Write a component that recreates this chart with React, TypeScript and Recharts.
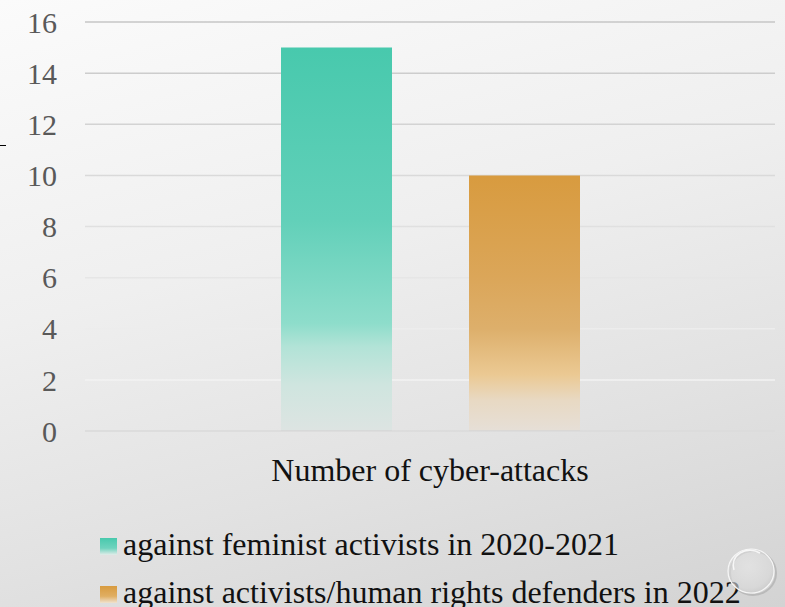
import { BarChart, Bar, XAxis, YAxis, CartesianGrid, Legend } from 'recharts'

const categories = ['Number of cyber-attacks']
const feministActivists = [15]
const rightsDefenders = [10]
const yTicks = [0, 2, 4, 6, 8, 10, 12, 14, 16]
const seriesNames = [
  'against feminist activists in 2020-2021',
  'against activists/human rights defenders in 2022',
]

const rows = categories.map((name, i) => ({
  name,
  feminist: feministActivists[i],
  defenders: rightsDefenders[i],
}))

const FONT = '"Liberation Serif"'

function LegendBox() {
  const swatches = [
    'linear-gradient(180deg, #48C9AD 0%, #6FD3BE 60%, #E2ECE9 100%)',
    'linear-gradient(180deg, #D89B3F 0%, #E0AE62 60%, #F0E2CE 100%)',
  ]
  return (
    <div style={{ height: 87, paddingLeft: 100, fontFamily: FONT, fontSize: 32, color: '#111', lineHeight: '34px' }}>
      {seriesNames.map((label, i) => (
        <div key={label} style={{ display: 'flex', alignItems: 'center', height: 48, marginTop: i === 0 ? 1 : 0 }}>
          <span style={{ display: 'inline-block', width: 17, height: 17, background: swatches[i], marginRight: 6, marginTop: 4 }} />
          <span style={{ whiteSpace: 'nowrap' }}>{label}</span>
        </div>
      ))}
    </div>
  )
}

export default function App() {
  return (
    <div
      style={{
        position: 'absolute',
        left: 0,
        top: 0,
        width: 785,
        height: 607,
        overflow: 'hidden',
        background: 'linear-gradient(165deg, #fbfbfb 0%, #efefef 40%, #e2e2e2 70%, #d3d3d3 100%)',
      }}
    >
      <div style={{ position: 'absolute', left: 0, top: 145, width: 6, height: 1, background: '#000' }} />
      <BarChart
        width={785}
        height={607}
        data={rows}
        margin={{ top: 22, right: 10, left: 0, bottom: 0 }}
        barGap={77}
      >
        <defs>
          <linearGradient id="tealGrad" x1="0" y1="0" x2="0" y2="1">
            <stop offset="0%" stopColor="#48C9AD" />
            <stop offset="45%" stopColor="#62D0B9" />
            <stop offset="72%" stopColor="#8EDDCB" />
            <stop offset="78%" stopColor="#B2E3D7" />
            <stop offset="88%" stopColor="#CFE5DF" />
            <stop offset="100%" stopColor="#DDE4E2" />
          </linearGradient>
          <linearGradient id="orangeGrad" x1="0" y1="0" x2="0" y2="1">
            <stop offset="0%" stopColor="#D89B3F" />
            <stop offset="40%" stopColor="#DBA659" />
            <stop offset="60%" stopColor="#DDAF6B" />
            <stop offset="78%" stopColor="#EBC993" />
            <stop offset="88%" stopColor="#E8D9C3" />
            <stop offset="100%" stopColor="#E6DFD7" />
          </linearGradient>
          <linearGradient id="gridGrad" gradientUnits="userSpaceOnUse" x1="0" y1="22" x2="0" y2="400">
            <stop offset="0%" stopColor="#c6c6c6" />
            <stop offset="50%" stopColor="#dedede" />
            <stop offset="100%" stopColor="#f5f5f5" />
          </linearGradient>
        </defs>
        <CartesianGrid vertical={false} stroke="url(#gridGrad)" strokeWidth={1.5} />
        <XAxis
          dataKey="name"
          height={88}
          axisLine={{ stroke: '#d6d6d6', strokeWidth: 1.5 }}
          tickLine={false}
          tickSize={0}
          tickMargin={27}
          tick={{ fontSize: 32, fill: '#111', fontFamily: FONT }}
        />
        <YAxis
          width={85}
          domain={[0, 16]}
          ticks={yTicks}
          axisLine={false}
          tickLine={false}
          tickSize={0}
          tickMargin={28}
          tick={{ fontSize: 30, fill: '#595959', fontFamily: FONT }}
        />
        <Legend verticalAlign="bottom" content={() => <LegendBox />} wrapperStyle={{ left: 0, width: 785 }} />
        <Bar dataKey="feminist" name={seriesNames[0]} fill="url(#tealGrad)" barSize={111} isAnimationActive={false} />
        <Bar dataKey="defenders" name={seriesNames[1]} fill="url(#orangeGrad)" barSize={111} isAnimationActive={false} />
      </BarChart>
      <svg style={{ position: 'absolute', left: 724, top: 544 }} width={56} height={56}>
        <defs>
          <radialGradient id="glass" cx="0.45" cy="0.4" r="0.65">
            <stop offset="0%" stopColor="#ececec" stopOpacity={0.5} />
            <stop offset="75%" stopColor="#dadada" stopOpacity={0.6} />
            <stop offset="100%" stopColor="#c4c4c4" stopOpacity={0.8} />
          </radialGradient>
        </defs>
        <ellipse cx={29} cy={29} rx={23} ry={22} fill="none" stroke="#8a8a8a" strokeWidth={2} opacity={0.35} />
        <ellipse cx={27} cy={27} rx={23} ry={22} fill="url(#glass)" stroke="#f6f6f6" strokeWidth={1.2} />
        <path d="M 10 26 A 17 15 0 0 1 36 9" fill="none" stroke="#ffffff" strokeWidth={1.5} opacity={0.8} />
      </svg>
    </div>
  )
}
